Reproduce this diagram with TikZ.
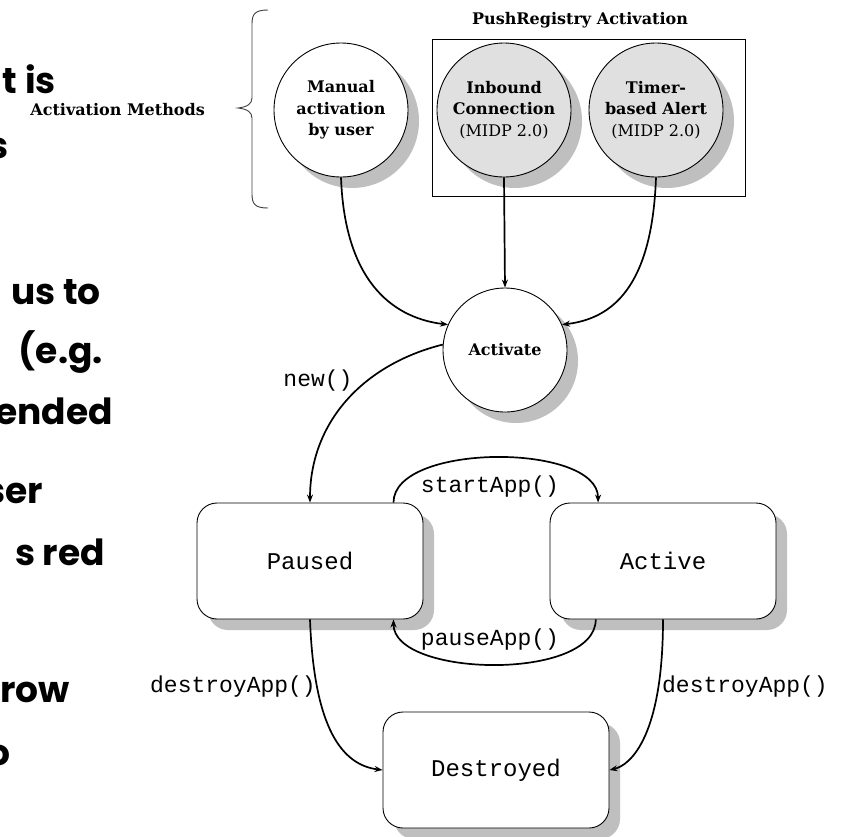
\documentclass[tikz,border=0pt]{standalone}
\usepackage{fontspec}
\setmainfont{Liberation Serif}
\newfontfamily\slidefont{Poppins}
\newfontfamily\diafont{DejaVu Serif}
\newfontfamily\labfont{Liberation Mono}
\usetikzlibrary{arrows.meta,shadows}
\begin{document}
\begin{tikzpicture}[x=1pt,y=-1pt,
  slide/.style={anchor=base east,inner sep=0pt,font=\slidefont\bfseries\fontsize{36}{36}\selectfont},
  shd/.style={drop shadow={shadow xshift=11pt,shadow yshift=-11pt,fill=black!25,opacity=1}},
  circ/.style={circle,draw=black,line width=0.9pt,minimum size=134pt,inner sep=0pt,align=center,
     font=\diafont\bfseries\fontsize{16}{21.5}\selectfont,shd},
  state/.style={rectangle,rounded corners=20pt,draw=black,line width=0.9pt,fill=white,
     minimum width=226pt,minimum height=116pt,inner sep=0pt,font=\labfont\fontsize{24}{24}\selectfont,shd},
  conn/.style={line width=1.7pt,-{Stealth[length=8pt,width=6pt]}},
  lab/.style={inner sep=0pt,font=\labfont\fontsize{23}{23}\selectfont},
  blab/.style={inner sep=0pt,font=\diafont\bfseries\fontsize{16}{16}\selectfont}]
\useasboundingbox (0,0) rectangle (846,836);
\clip (0,0) rectangle (846,836);
\fill[white] (0,0) rectangle (846,836);
% cut-off slide text
\node[slide] (t1) at (56,93) {t is};
\node[slide] (t2) at (9,158) {s};
\node[slide] (t3) at (101,304) {us to};
\node[slide] (t4) at (103,363) {(e.g.};
\node[slide] (t5) at (113,424) {ended};
\node[slide] (t6) at (43,503) {ser};
\node[slide] (t7) at (105,565) {s red};
\node[slide] (t8) at (70,702) {row};
\node[slide] (t9) at (11,765) {o};
% brace and its label
\draw[black!75,line width=0.9pt] (268,10) .. controls (255,10) and (252,14) .. (252,24) -- (252,98)
  .. controls (252,104) and (247,107) .. (238,108) .. controls (247,109) and (252,112) .. (252,118)
  -- (252,194) .. controls (252,204) and (255,208) .. (268,208);
\node[blab,anchor=east] (am) at (205,110) {Activation Methods};
% push registry box
\node[draw=black,line width=0.9pt,minimum width=313pt,minimum height=157pt,inner sep=0pt] (pushbox) at (589,117.5) {};
\node[blab] (pushlabel) at (580,20) {PushRegistry Activation};
\node[circ,fill=white] (manual) at (341,110) {Manual\\activation\\by user};
\node[circ,fill=black!12] (inbound) at (504,110) {Inbound\\Connection\\{\mdseries (MIDP 2.0)}};
\node[circ,fill=black!12] (timer) at (656,110) {Timer-\\based Alert\\{\mdseries (MIDP 2.0)}};
\node[circ,fill=white,minimum size=124pt] (activate) at (505,350) {Activate};
% states
\node[state] (paused) at (310,561) {Paused};
\node[state] (active) at (663,561) {Active};
\node[state] (destroyed) at (496,770) {Destroyed};
% connectors
\draw[conn] (manual.south) .. controls +(4,110) and +(-50,-6) .. (activate.156);
\draw[conn] (inbound.south) -- (activate.north);
\draw[conn] (timer.south) .. controls +(-4,110) and +(50,-6) .. (activate.24);
\draw[conn] (activate.175) .. controls +(-80,20) and +(0,-80) .. (paused.north);
\draw[conn] (paused.35) .. controls +(0,-60) and +(0,-60) .. (active.138);
\draw[conn] (active.221) .. controls +(0,62) and +(0,58) .. (paused.-35);
\draw[conn] (paused.south) .. controls +(4,110) and +(-40,-5) .. (destroyed.west);
\draw[conn] (active.south) .. controls +(0,115) and +(22,-5) .. (destroyed.east);
% labels
\node[lab] (lnew) at (318,381) {new()};
\node[lab] (lstart) at (490,487) {startApp()};
\node[lab] (lpause) at (490,640) {pauseApp()};
\node[lab] (ldl) at (233,687) {destroyApp()};
\node[lab] (ldr) at (745,687) {destroyApp()};
\end{tikzpicture}
\end{document}
